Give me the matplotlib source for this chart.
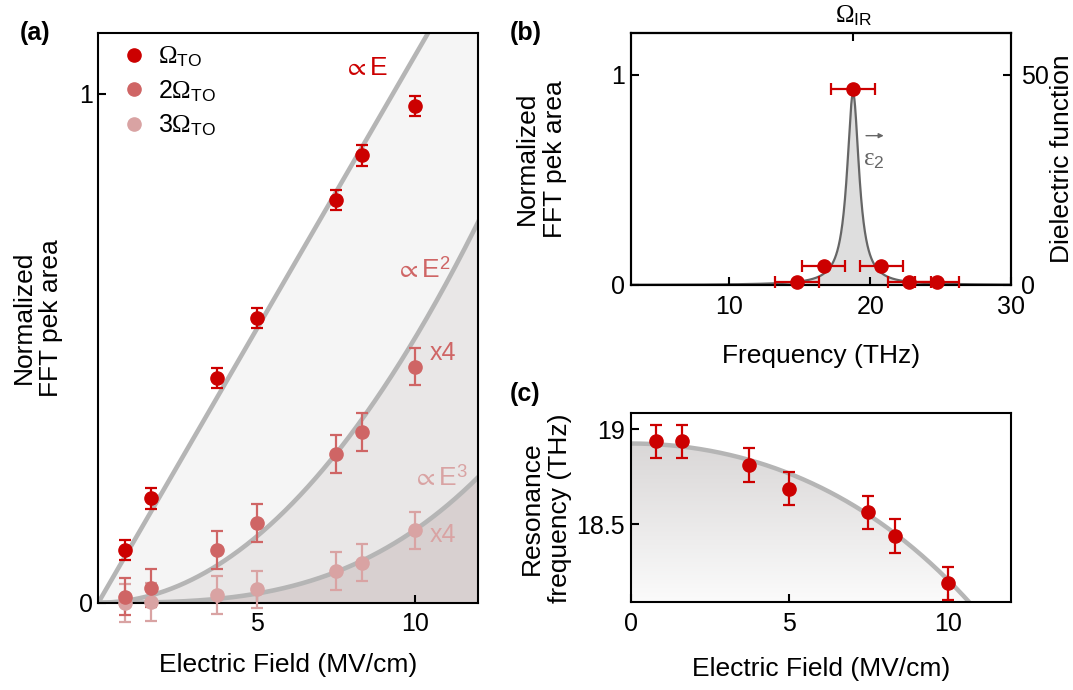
import numpy as np
import matplotlib.pyplot as plt
from matplotlib.lines import Line2D
from matplotlib.colors import LinearSegmentedColormap

plt.rcParams['font.family'] = ['Liberation Sans', 'DejaVu Sans']
plt.rcParams['mathtext.fontset'] = 'custom'
plt.rcParams['mathtext.rm'] = 'Liberation Serif'
plt.rcParams['mathtext.it'] = 'Liberation Serif:italic'
plt.rcParams['mathtext.sf'] = 'Liberation Sans'
plt.rcParams['mathtext.fallback'] = 'stixsans'

# ---- (a) FFT peak area vs field
field = [0.83, 1.65, 3.75, 5.0, 7.5, 8.33, 10.0]
area_1 = [0.104, 0.205, 0.442, 0.560, 0.791, 0.879, 0.976]
area_2 = [0.012, 0.029, 0.104, 0.157, 0.292, 0.336, 0.464]
area_3 = [0.0, 0.002, 0.015, 0.026, 0.062, 0.079, 0.142]
err_1 = 0.02
err_23 = 0.037
fit_lin = 0.1075     # prop. E
fit_sq = 0.0052      # prop. E^2
fit_cub = 0.000143   # prop. E^3

# ---- (b) spectrum
freq = [14.79, 16.70, 18.77, 20.78, 22.77, 24.74]
freq_area = [0.013, 0.092, 0.932, 0.092, 0.013, 0.013]
freq_err = 1.54
eps_peak = 45.6
eps_f0 = 18.78
eps_hwhm = 0.52

# ---- (c) resonance frequency vs field
res_field = [0.81, 1.63, 3.74, 4.98, 7.47, 8.32, 10.0]
res_freq = [18.938, 18.938, 18.812, 18.689, 18.563, 18.438, 18.189]
res_err = 0.088
res_f0 = 18.926
res_a = 0.00604
res_b = 1.13e-5

red1 = '#cc0000'
red2 = '#cf6565'
red3 = '#d9a3a3'
curve_gray = '#b5b5b5'

fig = plt.figure(figsize=(10.73, 6.9), dpi=100)
ax_a = fig.add_axes([0.0916, 0.1265, 0.3542, 0.8261])
ax_b = fig.add_axes([0.5878, 0.5870, 0.3546, 0.3657])
ax_c = fig.add_axes([0.5878, 0.1271, 0.3546, 0.2739])


def style(ax):
    for s in ax.spines.values():
        s.set_linewidth(1.5)
    ax.tick_params(direction='in', length=6, width=1.5, labelsize=18)
    ax.tick_params(axis='x', pad=7)
    ax.tick_params(axis='y', pad=4)


def errs(ax, x, y, col, xerr=None, yerr=None):
    cont = ax.errorbar(x, y, xerr=xerr, yerr=yerr, fmt='o', color=col, ms=9.5,
                       elinewidth=1.6, capsize=4.5, capthick=1.6, zorder=4)
    for art in [cont.lines[0]] + list(cont.lines[1]) + list(cont.lines[2]):
        art.set_clip_on(False)


# ---------------- (a)
E = np.linspace(0, 12, 400)
ax_a.fill_between(E, fit_sq * E**2, fit_lin * E, color='#f5f5f5', lw=0, zorder=1)
ax_a.fill_between(E, fit_cub * E**3, fit_sq * E**2, color='#e9e7e7', lw=0, zorder=1)
ax_a.fill_between(E, 0, fit_cub * E**3, color='#d8d0d0', lw=0, zorder=1)
for k, p in [(fit_lin, 1), (fit_sq, 2), (fit_cub, 3)]:
    ax_a.plot(E, k * E**p, color=curve_gray, lw=3.3, zorder=2)

errs(ax_a, field, area_3, red3, yerr=err_23)
errs(ax_a, field, area_2, red2, yerr=err_23)
errs(ax_a, field, area_1, red1, yerr=err_1)

ax_a.set_xlim(0, 12)
ax_a.set_ylim(0, 1.12)
ax_a.set_xticks([5, 10])
ax_a.set_yticks([0, 1])
style(ax_a)
ax_a.set_xlabel('Electric Field (MV/cm)', fontsize=19)
ax_a.xaxis.set_label_coords(0.5, -0.088)
ax_a.set_ylabel('Normalized\nFFT pek area', fontsize=19)
ax_a.yaxis.set_label_coords(-0.092, 0.5)

ax_a.text(7.75, 1.05, r'$\propto\mathsf{E}$', color=red1, fontsize=19, va='center')
ax_a.text(9.4, 0.655, r'$\propto\mathsf{E}^{\mathsf{2}}$', color=red2, fontsize=19, va='center')
ax_a.text(10.45, 0.49, 'x4', color=red2, fontsize=18, va='center')
ax_a.text(9.95, 0.245, r'$\propto\mathsf{E}^{\mathsf{3}}$', color=red3, fontsize=19, va='center')
ax_a.text(10.45, 0.133, 'x4', color=red3, fontsize=18, va='center')

handles = [Line2D([], [], ls='none', marker='o', ms=9.5, color=c) for c in (red1, red2, red3)]
labels = [r'$\Omega_{\mathsf{TO}}$', r'$\mathsf{2}\Omega_{\mathsf{TO}}$',
          r'$\mathsf{3}\Omega_{\mathsf{TO}}$']
ax_a.legend(handles, labels, loc='upper left', bbox_to_anchor=(0, 1.02),
            frameon=False, fontsize=18, handlelength=1.0, handletextpad=0.46,
            labelspacing=0.35, borderaxespad=0.54, borderpad=0.4)

# ---------------- (b)
ax_b2 = ax_b.twinx()
f = np.linspace(3, 30, 1200)
eps = eps_peak * eps_hwhm**2 / ((f - eps_f0)**2 + eps_hwhm**2)
ax_b2.fill_between(f, 0, eps, color='#dedede', lw=0)
ax_b2.plot(f, eps, color='#666666', lw=1.6)
ax_b2.set_ylim(0, 60)
ax_b2.set_yticks([0, 50])
style(ax_b2)
ax_b2.tick_params(axis='y', pad=7)
ax_b2.set_ylabel('Dielectric function', fontsize=19)
ax_b2.yaxis.set_label_coords(1.102, 0.5)

ax_b.set_zorder(ax_b2.get_zorder() + 1)
ax_b.patch.set_visible(False)
errs(ax_b, freq, freq_area, red1, xerr=freq_err)
ax_b.set_xlim(3, 30)
ax_b.set_ylim(0, 1.2)
ax_b.set_xticks([10, 20, 30])
ax_b.set_yticks([0, 1])
style(ax_b)
ax_b.tick_params(axis='x', pad=7)
ax_b.set_xlabel('Frequency (THz)', fontsize=19)
ax_b.xaxis.set_label_coords(0.5, -0.235)
ax_b.set_ylabel('Normalized\nFFT pek area', fontsize=19)
ax_b.yaxis.set_label_coords(-0.168, 0.5)

sec = ax_b.secondary_xaxis('top')
sec.set_xticks([18.8], labels=[r'$\Omega_{\mathsf{IR}}$'])
sec.tick_params(direction='in', length=6, width=1.5, labelsize=18, pad=3)
sec.spines['top'].set_linewidth(1.5)

ax_b2.annotate('', xy=(20.95, 35.5), xytext=(19.7, 35.5),
               arrowprops=dict(arrowstyle='-|>', color='#666666', lw=1.0,
                               mutation_scale=7, shrinkA=0, shrinkB=0))
ax_b2.text(19.45, 30.0, r'$\mathrm{ε}_{\mathsf{2}}$', color='#666666', fontsize=18, va='center')

# ---------------- (c)
Ec = np.linspace(0, 12, 500)
fc = res_f0 - res_a * Ec**2 - res_b * Ec**4
y0, y1 = 18.09, 19.085
grad_cmap = LinearSegmentedColormap.from_list('g', ['#fbfbfb', '#d3d0d0'])
grad = np.linspace(1, 0, 256)[:, None]
im = ax_c.imshow(grad, extent=[0, 12, y0, y1], aspect='auto', cmap=grad_cmap,
                 origin='upper', zorder=0)
poly = ax_c.fill_between(Ec, y0 - 0.1, fc, facecolor='none', edgecolor='none')
im.set_clip_path(poly.get_paths()[0], transform=ax_c.transData)
ax_c.plot(Ec, fc, color=curve_gray, lw=3.2, zorder=2)
errs(ax_c, res_field, res_freq, red1, yerr=res_err)
ax_c.set_xlim(0, 12)
ax_c.set_ylim(y0, y1)
ax_c.set_xticks([0, 5, 10])
ax_c.set_yticks([18.5, 19])
ax_c.set_yticklabels(['18.5', '19'])
style(ax_c)
ax_c.set_xlabel('Electric Field (MV/cm)', fontsize=19)
ax_c.xaxis.set_label_coords(0.5, -0.29)
ax_c.set_ylabel('Resonance\nfrequency (THz)', fontsize=19)
ax_c.yaxis.set_label_coords(-0.155, 0.5)

fig.text(20 / 1073, 1 - 33 / 690, '(a)', fontsize=18, fontweight='bold', va='center')
fig.text(510 / 1073, 1 - 33 / 690, '(b)', fontsize=18, fontweight='bold', va='center')
fig.text(510 / 1073, 1 - 394 / 690, '(c)', fontsize=18, fontweight='bold', va='center')

fig.savefig('out.png', dpi=100)
